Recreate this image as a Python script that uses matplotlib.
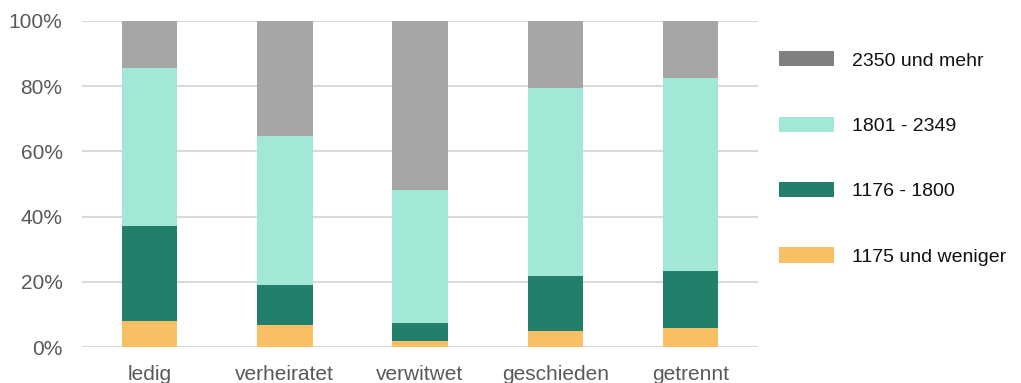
import matplotlib
matplotlib.use("Agg")
import matplotlib.pyplot as plt
from matplotlib.patches import Patch
from matplotlib.ticker import PercentFormatter
import numpy as np

plt.rcParams['font.family'] = ['Liberation Sans', 'DejaVu Sans']

categories = ["ledig", "verheiratet", "verwitwet", "geschieden", "getrennt"]
series_labels = ["1175 und weniger", "1176 - 1800", "1801 - 2349", "2350 und mehr"]
# shares in percent, bottom to top
low = [8.0, 6.7, 1.8, 5.0, 5.8]
mid_low = [29.1, 12.3, 5.7, 16.9, 17.7]
mid_high = [48.3, 45.6, 40.7, 57.4, 59.0]
high = [14.6, 35.4, 51.8, 20.7, 17.5]
series_values = [low, mid_low, mid_high, high]
bar_colors = ["#F8BF64", "#217F6B", "#A3E7D6", "#A6A6A6"]
legend_colors = ["#F8BF64", "#217F6B", "#A3E7D6", "#808080"]

fig = plt.figure(figsize=(10.21, 3.83), dpi=100)
ax = fig.add_axes([0.0803, 0.0932, 0.6622, 0.8528])

x = np.arange(len(categories))
bottom = np.zeros(len(categories))
for vals, col in zip(series_values, bar_colors):
    ax.bar(x, vals, bottom=bottom, width=0.41, color=col, zorder=3)
    bottom += np.array(vals)

ax.set_xlim(-0.5, len(categories) - 0.5)
ax.set_ylim(0, 100)
ax.set_yticks(np.arange(0, 101, 20))
ax.yaxis.set_major_formatter(PercentFormatter(decimals=0))
ax.set_xticks(x)
ax.set_xticklabels(categories)
ax.grid(axis='y', color='#D9D9D9', linewidth=1.5, zorder=0)
for s in ax.spines.values():
    s.set_visible(False)
ax.tick_params(axis='both', length=0, labelsize=15, colors='#595959')
ax.tick_params(axis='x', pad=13)
ax.tick_params(axis='y', pad=14)

handles = [Patch(facecolor=c) for c in reversed(legend_colors)]
leg = ax.legend(handles, list(reversed(series_labels)), loc='center left',
                bbox_to_anchor=(1.0, 0.578), frameon=False, fontsize=14,
                handlelength=2.83, handleheight=0.82, labelspacing=2.42,
                handletextpad=0.92, borderaxespad=0.68)
for t in leg.get_texts():
    t.set_color('#111111')

fig.savefig("out.png", dpi=100)
